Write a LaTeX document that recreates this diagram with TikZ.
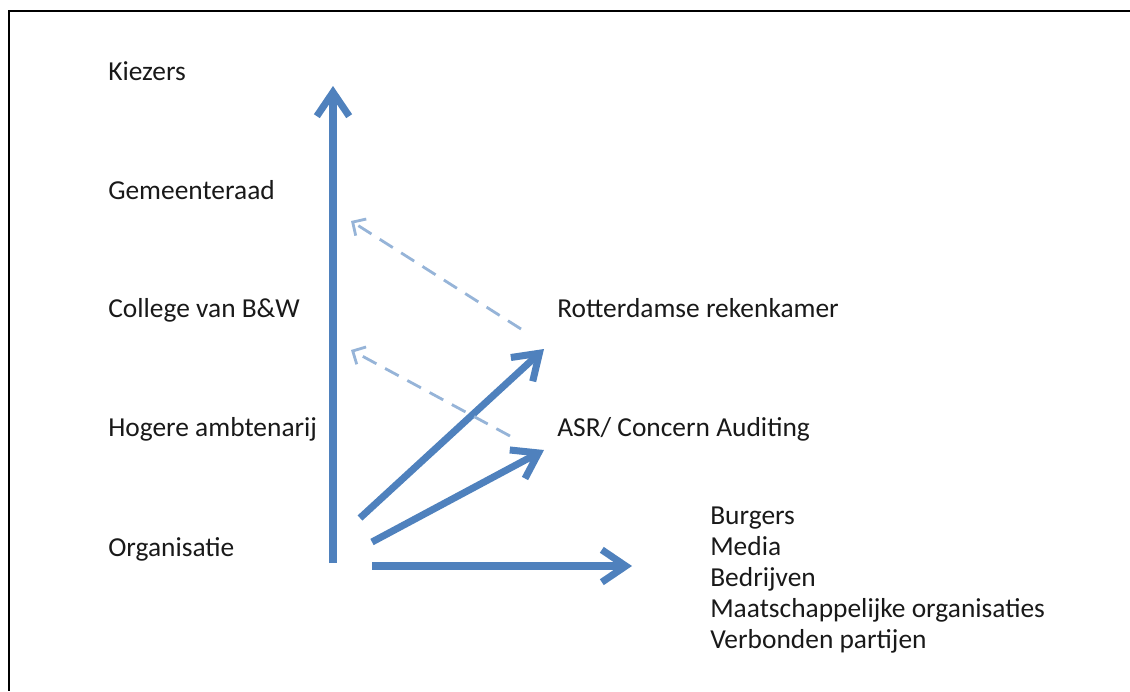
\documentclass[tikz,border=0pt]{standalone}
\usepackage{fontspec}
\setmainfont{Carlito}
\usepackage{xcolor}
\definecolor{arrowblue}{RGB}{79, 129, 189}
\definecolor{dashblue}{RGB}{150, 180, 216}
\definecolor{labelblack}{RGB}{25, 25, 25}
\usetikzlibrary{arrows.meta}

\begin{document}
\begin{tikzpicture}[x=0.025cm, y=-0.025cm,
    lbl/.style={anchor=base west, inner sep=0pt, font=\fontsize{19.5}{22}\selectfont, text=labelblack},
    flow/.style={arrowblue, line width=5pt, -{Straight Barb[length=17pt, width=23pt, line join=miter]}},
    back/.style={dashblue, line width=2pt, dash pattern=on 11pt off 7pt, -{Straight Barb[length=7pt, width=14pt]}}]
    \useasboundingbox (0,0) rectangle (1130,691);
    \draw[line width=1.5pt] (1130,11) -- (9,11) -- (9,691);

    % levels of accountability
    \node[lbl] (kiezers) at (108,80) {Kiezers};
    \node[lbl] (raad) at (108,199) {Gemeenteraad};
    \node[lbl] (college) at (108,317) {College van B\&W};
    \node[lbl] (ambt) at (108,436) {Hogere ambtenarij};
    \node[lbl] (org) at (108,556) {Organisatie};

    % auditors
    \node[lbl] (rrk) at (557,317) {Rotterdamse rekenkamer};
    \node[lbl] (asr) at (557,436) {ASR/ Concern Auditing};

    % outside parties
    \node[lbl, align=left, anchor=north west] (extern) at (710,507)
        {Burgers\\Media\\Bedrijven\\Maatschappelijke organisaties\\Verbonden partijen};

    \coordinate (vBot) at (333,563);
    \coordinate (vTop) at (333,86);
    \coordinate (d1Start) at (360,518);
    \coordinate (d1End) at (544,349);
    \coordinate (d2Start) at (372,542);
    \coordinate (d2End) at (544,450);
    \coordinate (hStart) at (372,566);
    \coordinate (hEnd) at (632,566);
    \coordinate (r1Start) at (521,329);
    \coordinate (r1End) at (351,221);
    \coordinate (r2Start) at (510,436);
    \coordinate (r2End) at (351,350);

    \draw[flow] (vBot) -- (vTop);
    \draw[flow] (d1Start) -- (d1End);
    \draw[flow] (d2Start) -- (d2End);
    \draw[flow] (hStart) -- (hEnd);

    \draw[back] (r1Start) -- (r1End);
    \draw[back] (r2Start) -- (r2End);
\end{tikzpicture}
\end{document}
